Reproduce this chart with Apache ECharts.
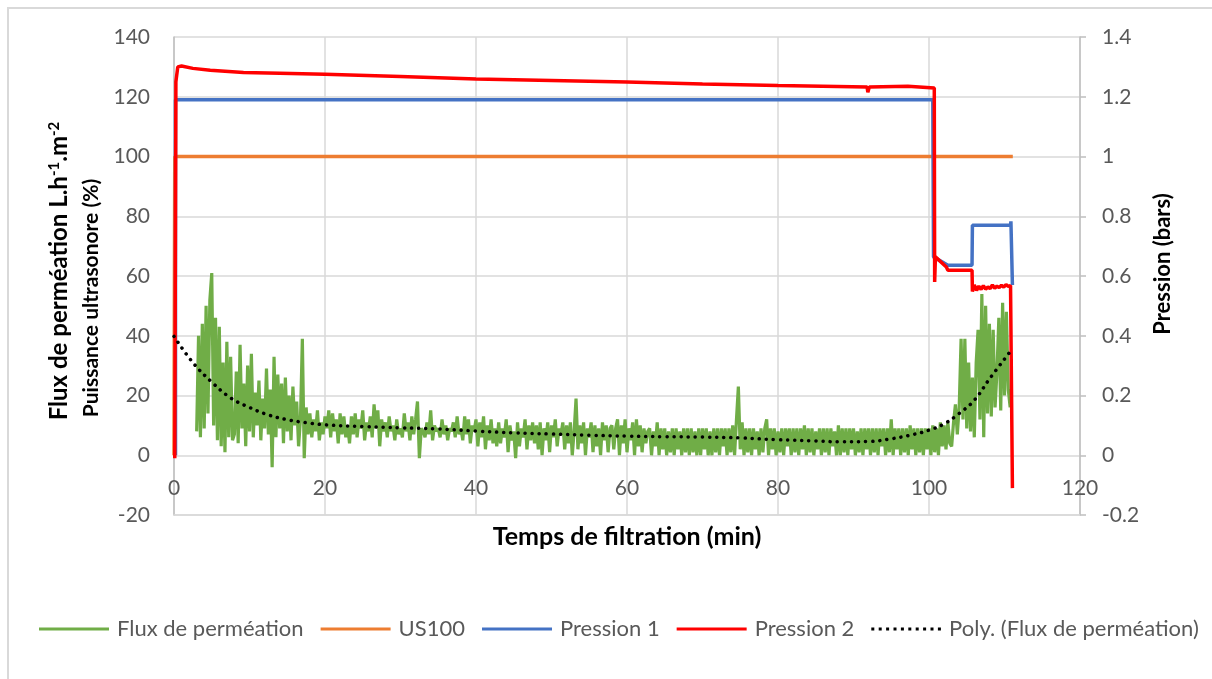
<!DOCTYPE html>
<html>
<head>
<meta charset="utf-8">
<script src="https://cdn.jsdelivr.net/npm/echarts@6/dist/echarts.min.js"></script>
<style>
  html, body { margin: 0; padding: 0; background: #fff; }
  #frame { position: absolute; left: 7px; top: 7px; width: 1400px; height: 900px;
           border-left: 2px solid #d9d9d9; border-top: 2px solid #d9d9d9; }
  #chart { position: absolute; left: 0; top: 0; width: 1212px; height: 679px; }
</style>
</head>
<body>
<div id="frame"></div>
<div id="chart"></div>
<script>
// Axis ranges and ticks
const xTicks = { min: 0, max: 120, step: 20 };
const leftTicks = { min: -20, max: 140, step: 20 };
const rightTicks = { min: -0.2, max: 1.4, step: 0.2 };

// Permeate flux (L.h-1.m-2), one reading every 0.25 min starting at 3 min
const FLUX_T0 = 3.0;
const FLUX_DT = 0.25;
const flux = [
  8, 40, 6, 44, 9, 50, 14, 52, 61, 10, 46, 5, 43, 3, 31, 1, 38, 6, 33, 5,
  7, 28, 4, 37, 9, 24, 3, 30, 8, 34, 6, 21, 10, 25, 5, 19, 9, 29, 7, 22,
  -4, 33, 6, 27, 9, 24, 4, 26, 8, 20, 5, 23, 10, 18, 3, 12, 39, -1, 16, 7,
  14, 6, 12, 8, 15, 5, 11, 7, 13, 9, 15, 6, 14, 8, 12, 4, 14, 7, 13, 6,
  10, 4, 13, 7, 14, 6, 12, 9, 15, 5, 11, 8, 13, 6, 17, 9, 15, 3, 12, 8,
  11, 6, 13, 8, 10, 5, 12, 7, 9, 6, 14, 8, 11, 5, 13, 7, 12, 18, -1, 9,
  8, 6, 11, 7, 15, 5, 10, 8, 9, 6, 12, 7, 10, 5, 9, 8, 11, 6, 13, 7,
  9, 5, 13, 7, 12, 4, 10, 8, 12, 3, 11, 6, 13, 2, 10, 5, 12, 4, 9, 3,
  11, 4, 9, 6, 12, 1, 10, 5, 8, -1, 11, 3, 9, 6, 12, 2, 10, 5, 11, 4,
  10, 2, 11, 0, 9, 5, 11, 1, 10, 6, 12, 3, 9, 7, 11, 2, 10, 4, 11, 0,
  8, 19, 2, 10, 4, 11, 0, 9, 6, 11, 1, 10, 3, 9, 0, 11, 5, 10, 1, 9,
  10, 2, 9, 12, 0, 10, 4, 12, 1, 9, 5, 11, 0, 12, 3, 10, 1, 9, 4, 8,
  9, 0, 8, 3, 11, 0, 9, 2, 9, 0, 8, 1, 9, 0, 9, 2, 8, 0, 9, 1,
  9, 0, 9, 1, 8, 0, 9, 0, 9, 2, 9, 0, 8, 0, 9, 1, 9, 0, 9, 3,
  9, 0, 9, 1, 10, 0, 12, 23, 2, 11, 0, 9, 1, 9, 0, 9, 2, 8, 0, 9,
  1, 9, 12, 0, 9, 2, 9, 0, 8, 1, 9, 0, 9, 3, 9, 0, 9, 1, 9, 0,
  9, 2, 10, 0, 9, 1, 9, 0, 8, 2, 9, 0, 9, 1, 9, 0, 9, 3, 8, 0,
  10, 0, 9, 1, 9, 0, 9, 2, 9, 0, 8, 1, 9, 0, 9, 2, 9, 0, 9, 1,
  9, 0, 9, 3, 9, 0, 9, 1, 12, 0, 9, 2, 9, 0, 9, 1, 9, 0, 10, 2,
  9, 0, 9, 1, 9, 0, 9, 2, 9, 0, 10, 1, 9, 0, 11, 3, 10, 2, 11, 4,
  3, 11, 17, 7, 16, 39, 12, 39, 9, 31, 8, 26, 6, 31, 42, 12, 54, 6, 50, 14,
  44, 13, 42, 16, 28, 46, 15, 51, 20, 48, 22, 16
];

// Ultrasound power setting (%), [time, value]
const us100 = [[0, 0], [0.1, 100], [111.1, 100]];

// Polynomial trend of the flux, [time, value]
const fluxTrend = [
  [0, 39.8], [2.5, 31], [5, 24.5], [7.5, 19.2], [10, 16], [12.5, 13.5],
  [15, 11.9], [17.5, 10.9], [20, 10.2], [25, 9.6], [30, 9.2], [35, 8.8],
  [40, 8.1], [45, 7.5], [50, 7.1], [55, 6.7], [60, 6.4], [65, 6.2],
  [70, 6.1], [75, 5.8], [80, 5.2], [85, 4.8], [88, 4.5], [92, 4.6],
  [95, 5.5], [98, 7], [100, 8.4], [102, 10.5], [104, 14], [106, 18.4],
  [108, 25.5], [110.7, 34.5]
];

// Pressure 1 (bars), [time, value]
const pression1 = [
  [0.2, 0], [0.2, 1.19], [100.5, 1.19], [100.6, 0.664], [102.5, 0.636],
  [105.7, 0.636], [105.75, 0.77], [110.8, 0.77], [110.85, 0.783],
  [111.0, 0.783], [111.05, 0.57]
];

// Pressure 2 (bars), [time, value]
const pression2 = [
  [0.1, -0.01], [0.25, 1.25], [0.5, 1.30], [1.0, 1.303], [2.5, 1.295],
  [4.8, 1.289], [9.2, 1.281], [14, 1.279], [20, 1.275], [30, 1.268],
  [40, 1.259], [50, 1.254], [60, 1.249], [70, 1.243], [80, 1.238],
  [91.8, 1.233], [91.9, 1.215], [92.1, 1.233], [97.2, 1.235], [97.3, 1.229],
  [100.7, 1.229], [100.75, 0.58], [100.85, 0.664], [102.3, 0.63],
  [102.5, 0.619], [105.7, 0.619], [105.75, 0.548], [106.0, 0.57],
  [106.3, 0.552], [106.6, 0.566], [106.9, 0.555], [107.2, 0.568],
  [107.5, 0.556], [107.8, 0.563], [108.1, 0.558], [108.4, 0.57],
  [108.7, 0.559], [109.0, 0.566], [109.3, 0.561], [109.6, 0.569],
  [109.9, 0.563], [110.2, 0.571], [110.5, 0.565], [110.8, 0.568],
  [111.0, 0.562], [111.05, -0.11]
];

const seriesNames = ['Flux de perméation', 'US100', 'Pression 1', 'Pression 2', 'Poly. (Flux de perméation)'];
const colors = { flux: '#70AD47', us: '#ED7D31', p1: '#4472C4', p2: '#FF0000', trend: '#000000' };

const FONT = 'Lato';
const fluxPoints = flux.map((v, i) => [FLUX_T0 + i * FLUX_DT, v]);

// Legend icons: a plain stroke, and a row of dots for the trend line
const lineIcon = 'rect';
const dotIcon = 'path://M0,0h3v3h-3zM7.4,0h3v3h-3zM14.8,0h3v3h-3zM22.2,0h3v3h-3zM29.6,0h3v3h-3zM37,0h3v3h-3zM44.4,0h3v3h-3zM51.8,0h3v3h-3zM59.2,0h3v3h-3zM66.6,0h3v3h-3z';

const chart = echarts.init(document.getElementById('chart'), null, { renderer: 'canvas' });

const tickLabel = { color: '#595959', fontSize: 21, fontFamily: FONT };
const boldText = { fill: '#000', fontWeight: 'bold', fontFamily: FONT };

chart.setOption({
  animation: false,
  backgroundColor: 'transparent',
  grid: { left: 174, right: 132, top: 37, bottom: 164, containLabel: false },
  // Axis titles
  graphic: [
    {
      type: 'text', x: 59, y: 271, rotation: Math.PI / 2,
      style: {
        text: '{b|Flux de perméation L.h}{s|-1}{b|.m}{s|-2}',
        align: 'center', verticalAlign: 'middle',
        rich: {
          b: Object.assign({ fontSize: 24 }, boldText),
          s: Object.assign({ fontSize: 15, verticalAlign: 'top', lineHeight: 16, padding: [0, 0, 12, 0] }, boldText)
        }
      }
    },
    {
      type: 'text', x: 91, y: 298, rotation: Math.PI / 2,
      style: Object.assign({ text: 'Puissance ultrasonore (%)', fontSize: 21, align: 'center', verticalAlign: 'middle' }, boldText)
    },
    {
      type: 'text', x: 627, y: 537,
      style: Object.assign({ text: 'Temps de filtration (min)', fontSize: 25, align: 'center', verticalAlign: 'middle' }, boldText)
    }
  ],
  legend: {
    data: seriesNames.map((n, i) => ({ name: n, icon: i === 4 ? dotIcon : lineIcon })),
    top: 613,
    left: 34,
    itemWidth: 70,
    itemHeight: 3,
    itemGap: 17,
    itemStyle: { borderWidth: 0 },
    textStyle: { color: '#595959', fontSize: 22, fontFamily: FONT, padding: [0, 0, 0, 3] }
  },
  xAxis: {
    type: 'value',
    position: 'bottom',
    min: xTicks.min, max: xTicks.max, interval: xTicks.step,
    axisLine: { onZero: false, lineStyle: { color: '#d9d9d9', width: 1.5 } },
    axisTick: { show: false },
    // labels sit between the zero line and the bottom gridline
    axisLabel: Object.assign({ margin: -37 }, tickLabel),
    splitLine: { show: true, lineStyle: { color: '#d9d9d9', width: 1.5 } }
  },
  yAxis: [
    {
      type: 'value',
      min: leftTicks.min, max: leftTicks.max, interval: leftTicks.step,
      axisLine: { show: true, lineStyle: { color: '#bfbfbf', width: 1.5 } },
      axisTick: { show: false },
      axisLabel: Object.assign({ margin: 24 }, tickLabel),
      splitLine: { show: true, lineStyle: { color: '#d9d9d9', width: 1.5 } }
    },
    {
      type: 'value',
      position: 'right',
      min: rightTicks.min, max: rightTicks.max, interval: rightTicks.step,
      name: 'Pression (bars)',
      nameLocation: 'middle',
      nameGap: 72,
      nameRotate: 90,
      nameTextStyle: { color: '#000', fontWeight: 'bold', fontFamily: FONT, fontSize: 22, padding: [0, 0, 0, 24] },
      axisLine: { show: true, onZero: false, lineStyle: { color: '#bfbfbf', width: 1.5 } },
      axisTick: { show: true, inside: false, length: 6, lineStyle: { color: '#bfbfbf', width: 1.5 } },
      axisLabel: Object.assign({
        margin: 22,
        formatter: v => String(Math.round(v * 10) / 10)
      }, tickLabel),
      splitLine: { show: false }
    }
  ],
  series: [
    {
      name: seriesNames[0], type: 'line', yAxisIndex: 0, data: fluxPoints,
      showSymbol: false, symbol: 'none',
      lineStyle: { color: colors.flux, width: 3.2 }, itemStyle: { color: colors.flux }
    },
    {
      name: seriesNames[1], type: 'line', yAxisIndex: 0, data: us100,
      showSymbol: false, symbol: 'none',
      lineStyle: { color: colors.us, width: 3.5 }, itemStyle: { color: colors.us }
    },
    {
      name: seriesNames[2], type: 'line', yAxisIndex: 1, data: pression1,
      showSymbol: false, symbol: 'none',
      lineStyle: { color: colors.p1, width: 3.5 }, itemStyle: { color: colors.p1 }
    },
    {
      name: seriesNames[3], type: 'line', yAxisIndex: 1, data: pression2,
      showSymbol: false, symbol: 'none',
      lineStyle: { color: colors.p2, width: 3.5 }, itemStyle: { color: colors.p2 }
    },
    {
      name: seriesNames[4], type: 'line', yAxisIndex: 0, data: fluxTrend,
      showSymbol: false, symbol: 'none', smooth: 0.4,
      lineStyle: { color: colors.trend, width: 3.5, type: [0.1, 7], cap: 'round' },
      itemStyle: { color: colors.trend }
    }
  ]
});
</script>
</body>
</html>
